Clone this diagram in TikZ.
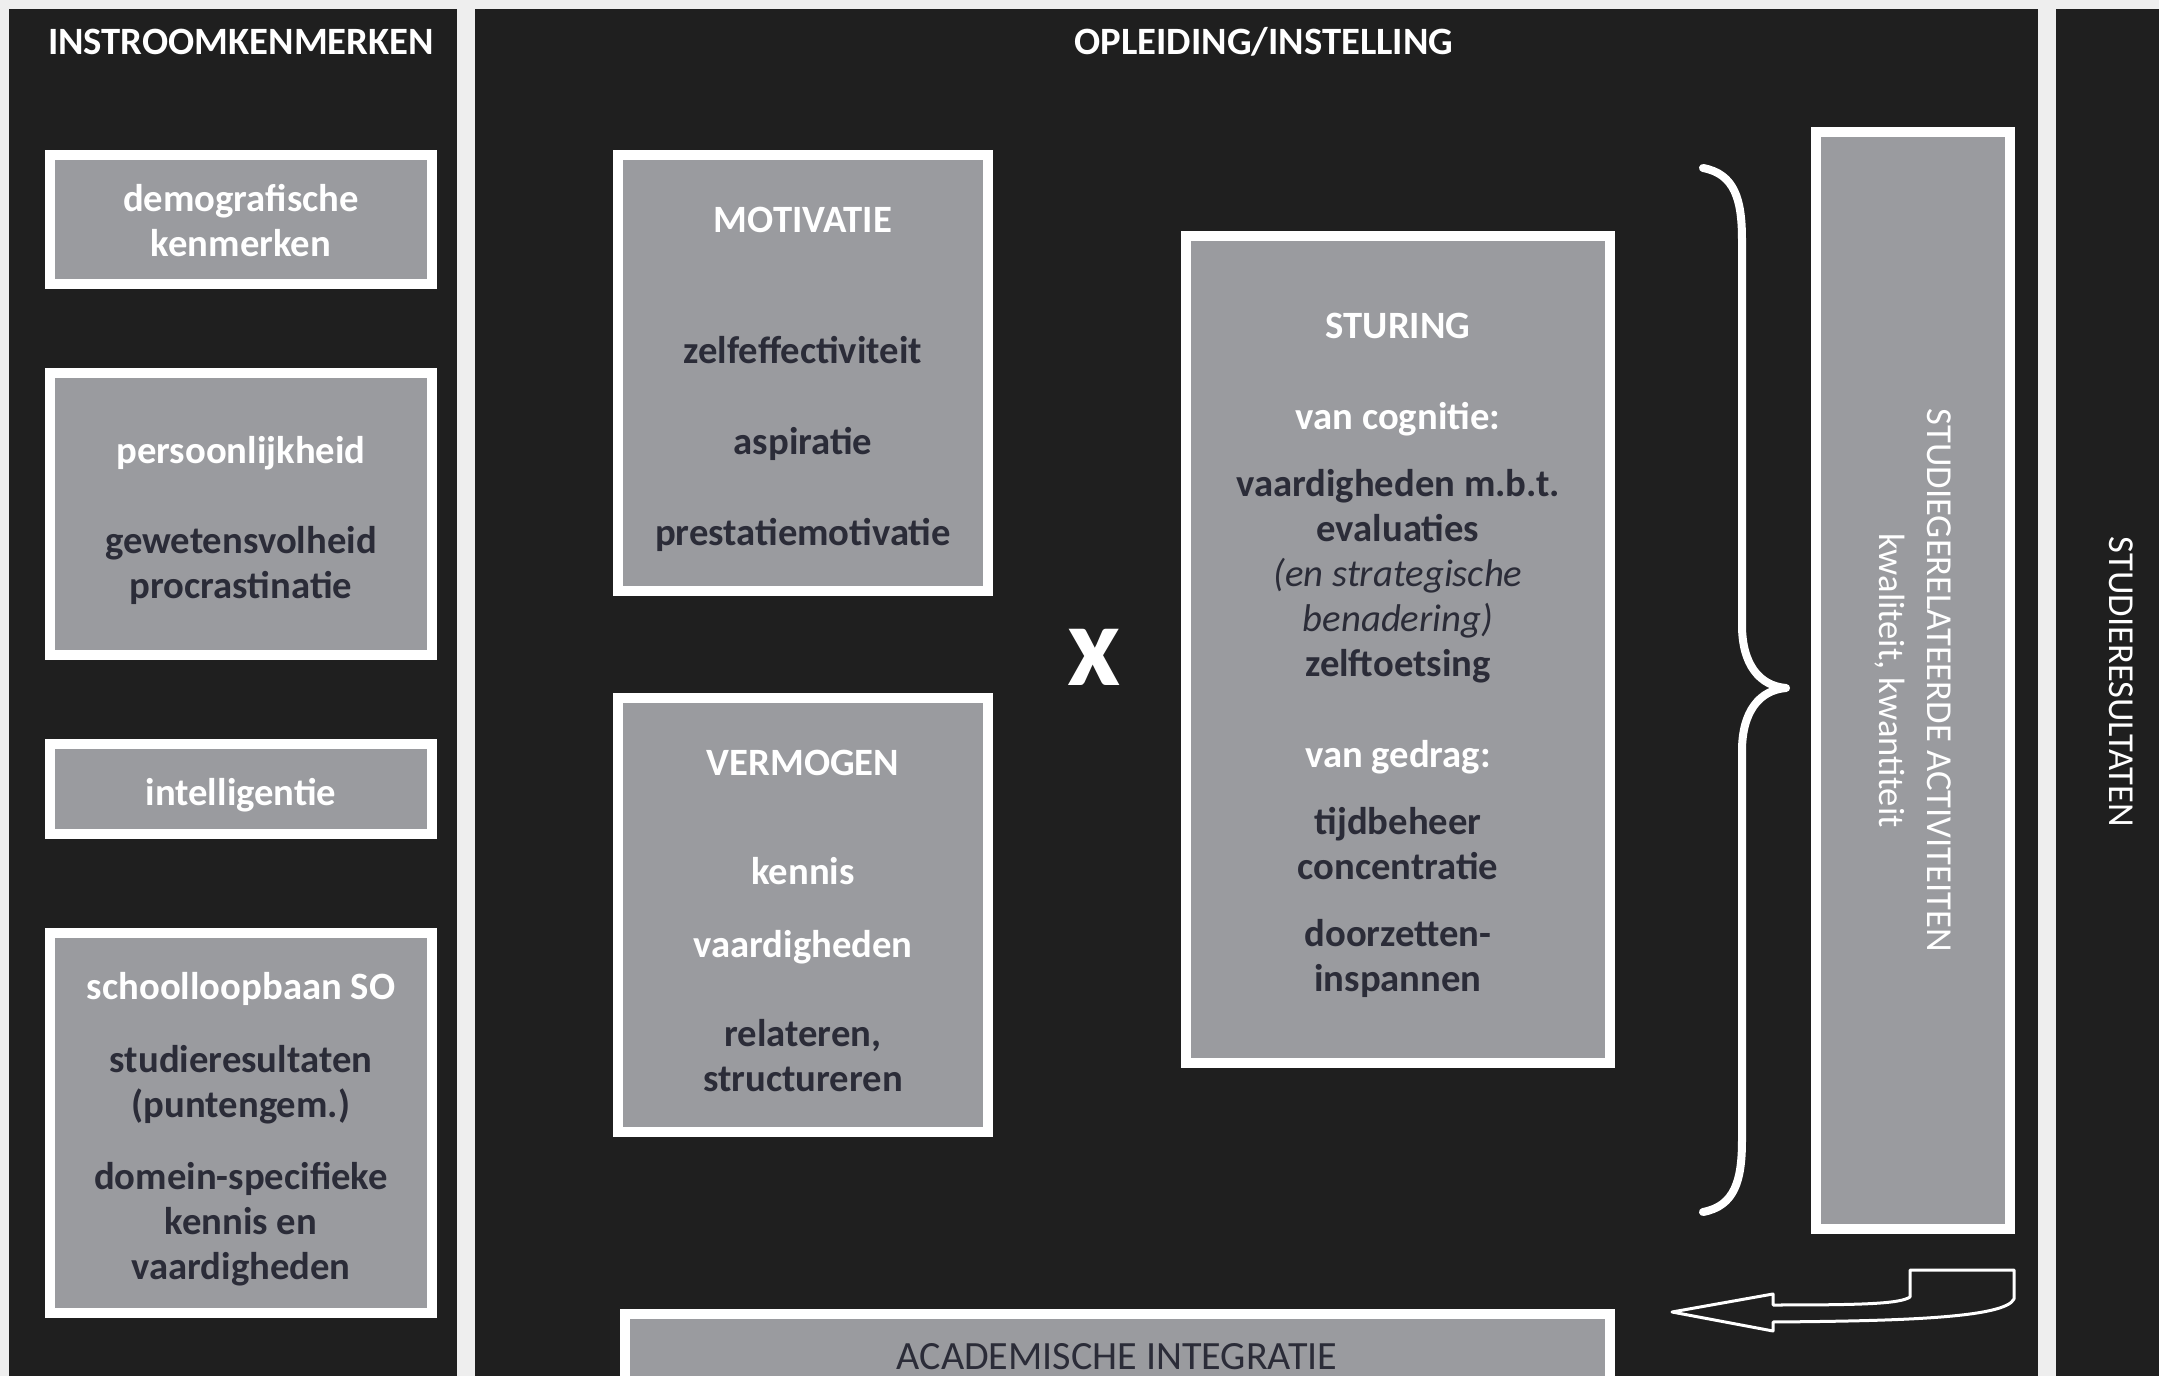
\documentclass[tikz,border=0pt]{standalone}
\usepackage{fontspec}
\setmainfont{Carlito}
\usetikzlibrary{positioning}
\definecolor{panel}{HTML}{1F1F1F}
\definecolor{paper}{HTML}{EEEEEE}
\definecolor{boxgray}{HTML}{9A9B9F}
\definecolor{dktext}{HTML}{2B2C38}
\tikzset{
every node/.style = {font = \fontsize{11pt}{12.8pt}\selectfont\bfseries},
gbox/.style = {rectangle, draw = white, line width = 0.1cm, fill = boxgray, inner sep = 0pt},
boxtext/.style = {align = center, text = dktext, inner sep = 0pt, yshift = -0.06cm},
header/.style = {text = white, inner sep = 0pt},
vtext/.style = {rotate = -90, text = white, align = center, inner sep = 0pt,
	font = \fontsize{10.4pt}{13.6pt}\selectfont},
curly/.style = {draw = white, line width = 0.08cm, line cap = round, line join = round},
backarrow/.style = {draw = white, line width = 0.03cm, line join = round}
}
\newcommand{\hd}[1]{\textcolor{white}{#1}}

\begin{document}
\begin{tikzpicture}[x = 0.01cm, y = -0.01cm]

\useasboundingbox (0,0) rectangle (2159,1376);
\clip (0,0) rectangle (2159,1376);

%% Background and panels
\fill [paper] (0,0) rectangle (2159,1376);
\fill [panel] (9,9) rectangle (457,1376);
\fill [panel] (475,9) rectangle (2038,1376);
\fill [panel] (2056,9) rectangle (2159,1376);

%% Headings
\node at (241,42) [header] (instroom) {INSTROOMKENMERKEN};
\node at (1264,42) [header] (opleiding) {OPLEIDING/INSTELLING};

%% Instroom
\node at (241,219.5) [gbox, minimum width = 3.82cm, minimum height = 1.29cm] (demo) {};
\node at (demo) [boxtext, yshift = 0.05cm] (demotxt) {\hd{demografische}\\\hd{kenmerken}};
\node at (241,514) [gbox, minimum width = 3.82cm, minimum height = 2.82cm] (pers) {};
\node at (pers) [boxtext] (perstxt)
	{\hd{persoonlijkheid}\\[0.45cm]gewetensvolheid\\procrastinatie};
\node at (241,789) [gbox, minimum width = 3.82cm, minimum height = 0.90cm] (intel) {};
\node at (intel) [boxtext] (inteltxt) {\hd{intelligentie}};
\node at (241,1123) [gbox, minimum width = 3.82cm, minimum height = 3.80cm] (school) {};
\node at (school) [boxtext] (schooltxt)
	{\hd{schoolloopbaan SO}\\[0.28cm]studieresultaten\\(puntengem.)\\[0.27cm]
	domein-specifieke\\kennis en\\vaardigheden};

%% Opleiding
\node at (803,373) [gbox, minimum width = 3.70cm, minimum height = 4.36cm] (motiv) {};
\node at (motiv) [boxtext] (motivtxt)
	{\hd{MOTIVATIE}\\[0.86cm]zelfeffectiviteit\\[0.46cm]aspiratie\\[0.46cm]prestatiemotivatie};
\node at (803,915) [gbox, minimum width = 3.70cm, minimum height = 4.34cm] (verm) {};
\node at (verm) [boxtext] (vermtxt)
	{\hd{VERMOGEN}\\[0.64cm]\hd{kennis}\\[0.28cm]\hd{vaardigheden}\\[0.44cm]
	relateren,\\structureren};
\node at (1094,657) [header, font = \fontsize{33pt}{36pt}\selectfont\bfseries] (times) {x};
\node at (1398,649.5) [gbox, minimum width = 4.24cm, minimum height = 8.27cm] (stur) {};
\node at (stur) [boxtext] (sturtxt)
	{\hd{STURING}\\[0.46cm]\hd{van cognitie:}\\[0.22cm]vaardigheden m.b.t.\\evaluaties\\
	{\mdseries\itshape (en strategische}\\{\mdseries\itshape benadering)}\\zelftoetsing\\[0.46cm]
	\hd{van gedrag:}\\[0.22cm]tijdbeheer\\concentratie\\[0.22cm]doorzetten-\\inspannen};

% The brace
\draw [curly] (1703,168) .. controls (1735,174) and (1742,200) .. (1742,240)
	-- (1742,625) .. controls (1742,665) and (1760,686) .. (1786,688)
	.. controls (1760,690) and (1742,711) .. (1742,751)
	-- (1742,1140) .. controls (1742,1180) and (1735,1206) .. (1703,1212);

%% Activiteiten
\node at (1913,680.5) [gbox, minimum width = 1.94cm, minimum height = 10.97cm] (studact) {};
\node at (studact.center) [vtext] (studacttxt)
	{STUDIEGERELATEERDE ACTIVITEITEN\\kwaliteit, kwantiteit};

% The back arrow
\draw [backarrow] (1672,1312) -- (1773,1294) -- (1773,1305)
	.. controls (1860,1305) and (1900,1304) .. (1910,1297) -- (1910,1270)
	-- (2014,1270) -- (2014,1299) .. controls (2005,1318) and (1900,1321) .. (1773,1322)
	-- (1773,1331) -- cycle;

%% Academische integratie
\node at (1117.5,1309) [gbox, anchor = north, minimum width = 9.85cm, minimum height = 2cm] (acad) {};
\node at (1117,1357) [inner sep = 0pt, text = dktext, font = \fontsize{11.4pt}{12.8pt}\selectfont] (acadtxt)
	{ACADEMISCHE INTEGRATIE};

%% Studieresultaten
\node at (2121,682) [vtext] (result) {STUDIERESULTATEN};

\end{tikzpicture}
\end{document}
